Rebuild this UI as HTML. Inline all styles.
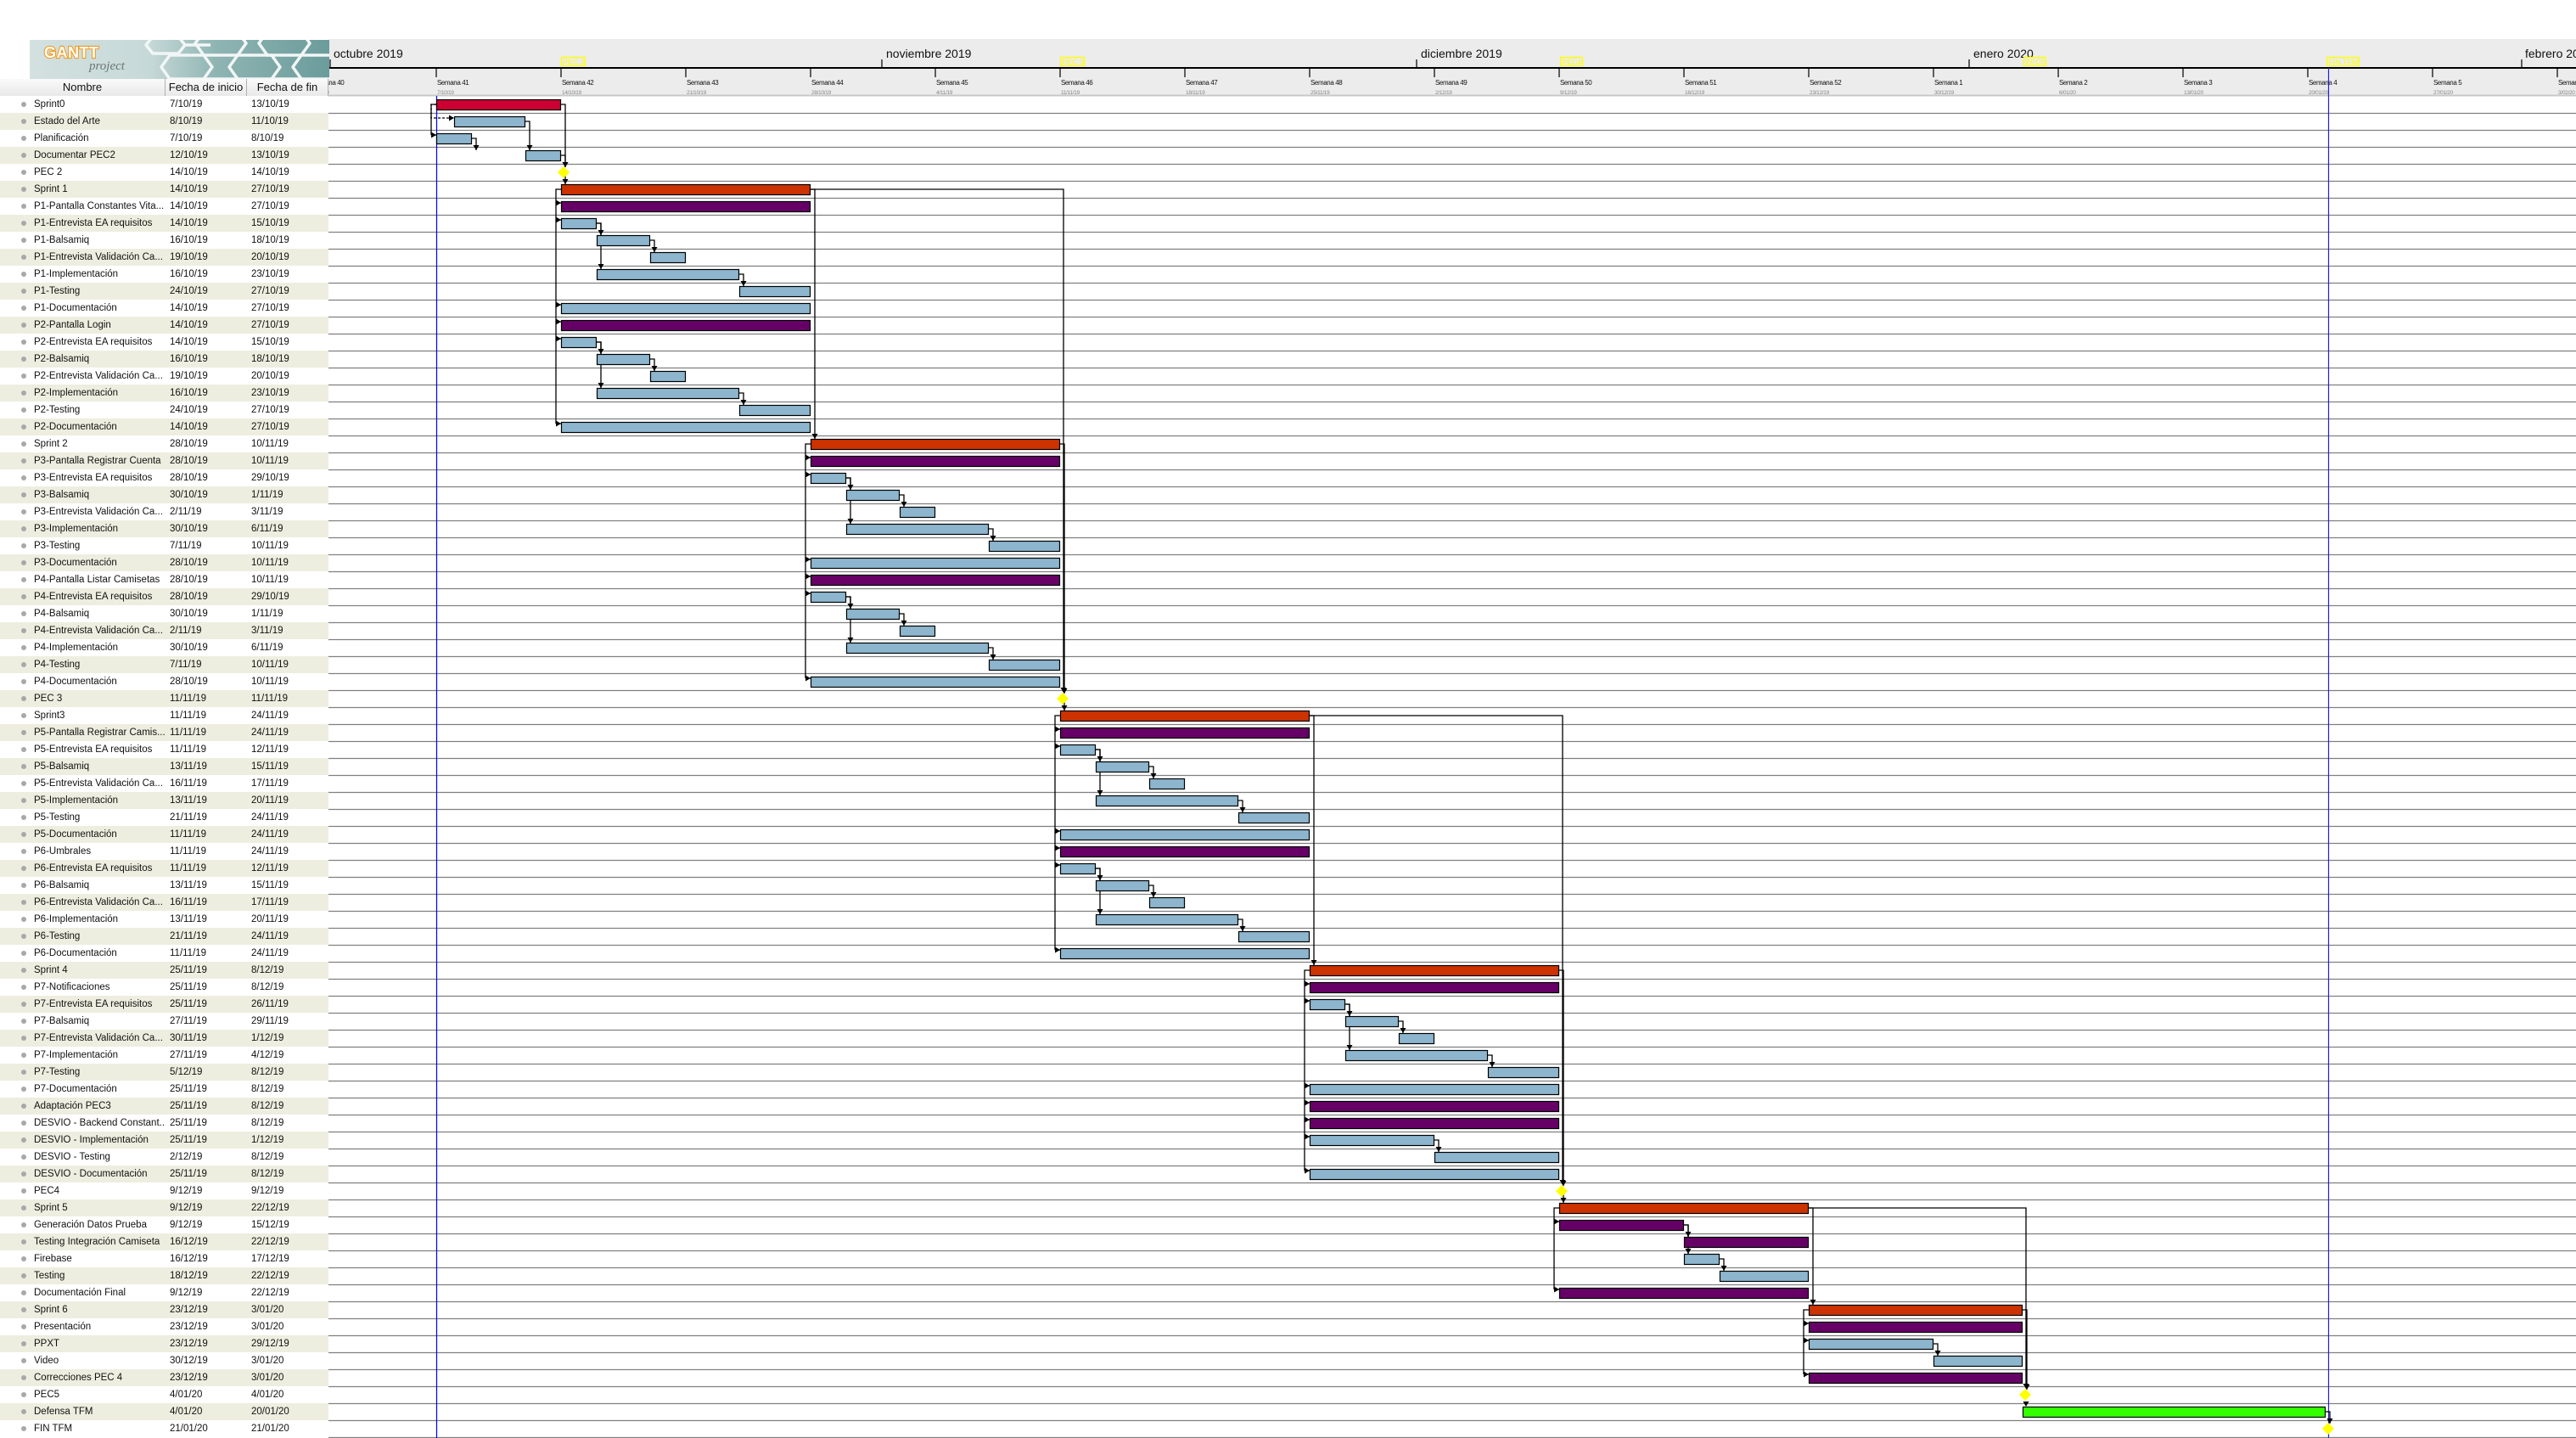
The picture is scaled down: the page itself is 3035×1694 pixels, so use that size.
<!DOCTYPE html>
<html><head><meta charset="utf-8">
<style>
html,body{margin:0;padding:0;background:#fff;}
body{width:3035px;height:1694px;position:relative;overflow:hidden;font-family:"Liberation Sans",sans-serif;}
#chart{position:absolute;left:0;top:0;}
#tbl{position:absolute;left:0;top:0;width:387px;height:1694px;background:#fff;}
.logo{position:absolute;left:35px;top:47px;width:353px;height:46px;background:linear-gradient(90deg,#d3e1e0 0%,#c6d9d8 40%,#8fb5b3 62%,#6b9c9b 100%);overflow:hidden;}
.hdr{position:absolute;top:93px;height:20px;line-height:20px;font-size:13px;text-align:center;background:linear-gradient(#fafafa,#e9e9e9);border-right:1px solid #b0b0b0;box-sizing:border-box;color:#111;}
.rows{position:absolute;left:0;top:113px;width:387px;}
.r{height:20px;line-height:20px;font-size:11.5px;color:#111;position:relative;white-space:nowrap;}
.r:nth-child(even){background:#eeeee0;}
.r i{position:absolute;left:25px;top:7px;width:6px;height:6px;border-radius:50%;background:#a8a8a8;}
.r b{font-weight:normal;position:absolute;left:40px;width:154px;overflow:hidden;}
.r s{text-decoration:none;position:absolute;left:200px;}
.r u{text-decoration:none;position:absolute;left:296px;}
</style></head><body>
<svg id="chart" width="3035" height="1694" xmlns="http://www.w3.org/2000/svg" font-family="Liberation Sans, sans-serif">
<rect x="387" y="46" width="2648" height="67" fill="#ececec"/>
<line x1="387" y1="112.5" x2="3035" y2="112.5" stroke="#c8c8c8" stroke-width="2"/>
<line x1="387" y1="80" x2="3035" y2="80" stroke="#000" stroke-width="2"/>
<g stroke="#000" stroke-width="1.2">
<line x1="389" y1="70" x2="389" y2="80"/><line x1="1039" y1="70" x2="1039" y2="80"/><line x1="1669" y1="70" x2="1669" y2="80"/><line x1="2320" y1="70" x2="2320" y2="80"/><line x1="2971" y1="70" x2="2971" y2="80"/>
</g>
<g font-size="14" fill="#111">
<text x="393" y="68">octubre 2019</text><text x="1044" y="68">noviembre 2019</text><text x="1674" y="68">diciembre 2019</text><text x="2325" y="68">enero 2020</text><text x="2975" y="68">febrero 2020</text>
</g>
<g stroke="#000" stroke-width="1.2">
<line x1="367" y1="80" x2="367" y2="91"/><line x1="514" y1="80" x2="514" y2="91"/><line x1="661" y1="80" x2="661" y2="91"/><line x1="808" y1="80" x2="808" y2="91"/><line x1="955" y1="80" x2="955" y2="91"/><line x1="1102" y1="80" x2="1102" y2="91"/><line x1="1249" y1="80" x2="1249" y2="91"/><line x1="1396" y1="80" x2="1396" y2="91"/><line x1="1543" y1="80" x2="1543" y2="91"/><line x1="1690" y1="80" x2="1690" y2="91"/><line x1="1837" y1="80" x2="1837" y2="91"/><line x1="1984" y1="80" x2="1984" y2="91"/><line x1="2131" y1="80" x2="2131" y2="91"/><line x1="2278" y1="80" x2="2278" y2="91"/><line x1="2425" y1="80" x2="2425" y2="91"/><line x1="2572" y1="80" x2="2572" y2="91"/><line x1="2719" y1="80" x2="2719" y2="91"/><line x1="2866" y1="80" x2="2866" y2="91"/><line x1="3013" y1="80" x2="3013" y2="91"/>
</g>
<g font-size="8" fill="#111" letter-spacing="-0.4">
<text x="368" y="100">Semana 40</text><text x="515" y="100">Semana 41</text><text x="662" y="100">Semana 42</text><text x="809" y="100">Semana 43</text><text x="956" y="100">Semana 44</text><text x="1103" y="100">Semana 45</text><text x="1250" y="100">Semana 46</text><text x="1397" y="100">Semana 47</text><text x="1544" y="100">Semana 48</text><text x="1691" y="100">Semana 49</text><text x="1838" y="100">Semana 50</text><text x="1985" y="100">Semana 51</text><text x="2132" y="100">Semana 52</text><text x="2279" y="100">Semana 1</text><text x="2426" y="100">Semana 2</text><text x="2573" y="100">Semana 3</text><text x="2720" y="100">Semana 4</text><text x="2867" y="100">Semana 5</text><text x="3014" y="100">Semana 6</text>
</g>
<g font-size="6.5" fill="#888" letter-spacing="-0.3">
<text x="368" y="111">30/9/19</text><text x="515" y="111">7/10/19</text><text x="662" y="111">14/10/19</text><text x="809" y="111">21/10/19</text><text x="956" y="111">28/10/19</text><text x="1103" y="111">4/11/19</text><text x="1250" y="111">11/11/19</text><text x="1397" y="111">18/11/19</text><text x="1544" y="111">25/11/19</text><text x="1691" y="111">2/12/19</text><text x="1838" y="111">9/12/19</text><text x="1985" y="111">16/12/19</text><text x="2132" y="111">23/12/19</text><text x="2279" y="111">30/12/19</text><text x="2426" y="111">6/01/20</text><text x="2573" y="111">13/01/20</text><text x="2720" y="111">20/01/20</text><text x="2867" y="111">27/01/20</text><text x="3014" y="111">3/02/20</text>
</g>
<g fill="none" stroke="#ffff00" stroke-width="1.2">
<rect x="661.5" y="67.5" width="28" height="10"/><rect x="1249.5" y="67.5" width="28" height="10"/><rect x="1838.5" y="67.5" width="26" height="10"/><rect x="2384.5" y="67.5" width="26" height="10"/><rect x="2741.5" y="67.5" width="38" height="10"/>
</g>
<g font-size="9" fill="#ffff00">
<text x="663" y="76">PEC 2</text><text x="1251" y="76">PEC 3</text><text x="1840" y="76">PEC4</text><text x="2386" y="76">PEC5</text><text x="2743" y="76">FIN TFM</text>
</g>
<g id="body"></g>
</svg>
<div id="tbl">
<div class="logo"><svg width="353" height="46" xmlns="http://www.w3.org/2000/svg">
<g fill="none" stroke="#f2f6f6" stroke-width="3.5" stroke-linejoin="round">
<path d="M145,-4 L175,-4 L183,6 L175,16 L145,16 L137,6 Z M183,6 L213,6"/>
<path d="M205,-10 L245,-10 L255,4 L245,18 L205,18 L195,4 Z"/>
<path d="M280,-10 L320,-10 L330,4 L320,18 L280,18 L270,4 Z"/>
<path d="M165,18 L205,18 L215,32 L205,46 L165,46 L155,32 Z"/>
<path d="M245,18 L285,18 L295,32 L285,46 L245,46 L235,32 Z"/>
<path d="M320,18 L360,18 L370,32 L360,46 L320,46 L310,32 Z"/>
<path d="M205,46 L245,46 M285,46 L320,46"/>
</g>
<text x="17" y="21" font-size="18" font-weight="bold" fill="#fff" font-family="Liberation Sans, sans-serif" stroke="#f39a1d" stroke-width="2.2" paint-order="stroke" letter-spacing="0.5">GANTT</text>
<text x="70" y="35" font-size="15" font-style="italic" fill="#6d7775" font-family="Liberation Serif, serif">project</text></svg></div>
<div class="hdr" style="left:0;width:195px;">Nombre</div>
<div class="hdr" style="left:195px;width:96px;">Fecha de inicio</div>
<div class="hdr" style="left:291px;width:96px;">Fecha de fin</div>
<div class="rows">
<div class="r"><i></i><b>Sprint0</b><s>7/10/19</s><u>13/10/19</u></div>
<div class="r"><i></i><b>Estado del Arte</b><s>8/10/19</s><u>11/10/19</u></div>
<div class="r"><i></i><b>Planificación</b><s>7/10/19</s><u>8/10/19</u></div>
<div class="r"><i></i><b>Documentar PEC2</b><s>12/10/19</s><u>13/10/19</u></div>
<div class="r"><i></i><b>PEC 2</b><s>14/10/19</s><u>14/10/19</u></div>
<div class="r"><i></i><b>Sprint 1</b><s>14/10/19</s><u>27/10/19</u></div>
<div class="r"><i></i><b>P1-Pantalla Constantes Vita...</b><s>14/10/19</s><u>27/10/19</u></div>
<div class="r"><i></i><b>P1-Entrevista EA requisitos</b><s>14/10/19</s><u>15/10/19</u></div>
<div class="r"><i></i><b>P1-Balsamiq</b><s>16/10/19</s><u>18/10/19</u></div>
<div class="r"><i></i><b>P1-Entrevista Validación Ca...</b><s>19/10/19</s><u>20/10/19</u></div>
<div class="r"><i></i><b>P1-Implementación</b><s>16/10/19</s><u>23/10/19</u></div>
<div class="r"><i></i><b>P1-Testing</b><s>24/10/19</s><u>27/10/19</u></div>
<div class="r"><i></i><b>P1-Documentación</b><s>14/10/19</s><u>27/10/19</u></div>
<div class="r"><i></i><b>P2-Pantalla Login</b><s>14/10/19</s><u>27/10/19</u></div>
<div class="r"><i></i><b>P2-Entrevista EA requisitos</b><s>14/10/19</s><u>15/10/19</u></div>
<div class="r"><i></i><b>P2-Balsamiq</b><s>16/10/19</s><u>18/10/19</u></div>
<div class="r"><i></i><b>P2-Entrevista Validación Ca...</b><s>19/10/19</s><u>20/10/19</u></div>
<div class="r"><i></i><b>P2-Implementación</b><s>16/10/19</s><u>23/10/19</u></div>
<div class="r"><i></i><b>P2-Testing</b><s>24/10/19</s><u>27/10/19</u></div>
<div class="r"><i></i><b>P2-Documentación</b><s>14/10/19</s><u>27/10/19</u></div>
<div class="r"><i></i><b>Sprint 2</b><s>28/10/19</s><u>10/11/19</u></div>
<div class="r"><i></i><b>P3-Pantalla Registrar Cuenta</b><s>28/10/19</s><u>10/11/19</u></div>
<div class="r"><i></i><b>P3-Entrevista EA requisitos</b><s>28/10/19</s><u>29/10/19</u></div>
<div class="r"><i></i><b>P3-Balsamiq</b><s>30/10/19</s><u>1/11/19</u></div>
<div class="r"><i></i><b>P3-Entrevista Validación Ca...</b><s>2/11/19</s><u>3/11/19</u></div>
<div class="r"><i></i><b>P3-Implementación</b><s>30/10/19</s><u>6/11/19</u></div>
<div class="r"><i></i><b>P3-Testing</b><s>7/11/19</s><u>10/11/19</u></div>
<div class="r"><i></i><b>P3-Documentación</b><s>28/10/19</s><u>10/11/19</u></div>
<div class="r"><i></i><b>P4-Pantalla Listar Camisetas</b><s>28/10/19</s><u>10/11/19</u></div>
<div class="r"><i></i><b>P4-Entrevista EA requisitos</b><s>28/10/19</s><u>29/10/19</u></div>
<div class="r"><i></i><b>P4-Balsamiq</b><s>30/10/19</s><u>1/11/19</u></div>
<div class="r"><i></i><b>P4-Entrevista Validación Ca...</b><s>2/11/19</s><u>3/11/19</u></div>
<div class="r"><i></i><b>P4-Implementación</b><s>30/10/19</s><u>6/11/19</u></div>
<div class="r"><i></i><b>P4-Testing</b><s>7/11/19</s><u>10/11/19</u></div>
<div class="r"><i></i><b>P4-Documentación</b><s>28/10/19</s><u>10/11/19</u></div>
<div class="r"><i></i><b>PEC 3</b><s>11/11/19</s><u>11/11/19</u></div>
<div class="r"><i></i><b>Sprint3</b><s>11/11/19</s><u>24/11/19</u></div>
<div class="r"><i></i><b>P5-Pantalla Registrar Camis...</b><s>11/11/19</s><u>24/11/19</u></div>
<div class="r"><i></i><b>P5-Entrevista EA requisitos</b><s>11/11/19</s><u>12/11/19</u></div>
<div class="r"><i></i><b>P5-Balsamiq</b><s>13/11/19</s><u>15/11/19</u></div>
<div class="r"><i></i><b>P5-Entrevista Validación Ca...</b><s>16/11/19</s><u>17/11/19</u></div>
<div class="r"><i></i><b>P5-Implementación</b><s>13/11/19</s><u>20/11/19</u></div>
<div class="r"><i></i><b>P5-Testing</b><s>21/11/19</s><u>24/11/19</u></div>
<div class="r"><i></i><b>P5-Documentación</b><s>11/11/19</s><u>24/11/19</u></div>
<div class="r"><i></i><b>P6-Umbrales</b><s>11/11/19</s><u>24/11/19</u></div>
<div class="r"><i></i><b>P6-Entrevista EA requisitos</b><s>11/11/19</s><u>12/11/19</u></div>
<div class="r"><i></i><b>P6-Balsamiq</b><s>13/11/19</s><u>15/11/19</u></div>
<div class="r"><i></i><b>P6-Entrevista Validación Ca...</b><s>16/11/19</s><u>17/11/19</u></div>
<div class="r"><i></i><b>P6-Implementación</b><s>13/11/19</s><u>20/11/19</u></div>
<div class="r"><i></i><b>P6-Testing</b><s>21/11/19</s><u>24/11/19</u></div>
<div class="r"><i></i><b>P6-Documentación</b><s>11/11/19</s><u>24/11/19</u></div>
<div class="r"><i></i><b>Sprint 4</b><s>25/11/19</s><u>8/12/19</u></div>
<div class="r"><i></i><b>P7-Notificaciones</b><s>25/11/19</s><u>8/12/19</u></div>
<div class="r"><i></i><b>P7-Entrevista EA requisitos</b><s>25/11/19</s><u>26/11/19</u></div>
<div class="r"><i></i><b>P7-Balsamiq</b><s>27/11/19</s><u>29/11/19</u></div>
<div class="r"><i></i><b>P7-Entrevista Validación Ca...</b><s>30/11/19</s><u>1/12/19</u></div>
<div class="r"><i></i><b>P7-Implementación</b><s>27/11/19</s><u>4/12/19</u></div>
<div class="r"><i></i><b>P7-Testing</b><s>5/12/19</s><u>8/12/19</u></div>
<div class="r"><i></i><b>P7-Documentación</b><s>25/11/19</s><u>8/12/19</u></div>
<div class="r"><i></i><b>Adaptación PEC3</b><s>25/11/19</s><u>8/12/19</u></div>
<div class="r"><i></i><b>DESVIO - Backend Constant...</b><s>25/11/19</s><u>8/12/19</u></div>
<div class="r"><i></i><b>DESVIO - Implementación</b><s>25/11/19</s><u>1/12/19</u></div>
<div class="r"><i></i><b>DESVIO - Testing</b><s>2/12/19</s><u>8/12/19</u></div>
<div class="r"><i></i><b>DESVIO - Documentación</b><s>25/11/19</s><u>8/12/19</u></div>
<div class="r"><i></i><b>PEC4</b><s>9/12/19</s><u>9/12/19</u></div>
<div class="r"><i></i><b>Sprint 5</b><s>9/12/19</s><u>22/12/19</u></div>
<div class="r"><i></i><b>Generación Datos Prueba</b><s>9/12/19</s><u>15/12/19</u></div>
<div class="r"><i></i><b>Testing Integración Camiseta</b><s>16/12/19</s><u>22/12/19</u></div>
<div class="r"><i></i><b>Firebase</b><s>16/12/19</s><u>17/12/19</u></div>
<div class="r"><i></i><b>Testing</b><s>18/12/19</s><u>22/12/19</u></div>
<div class="r"><i></i><b>Documentación Final</b><s>9/12/19</s><u>22/12/19</u></div>
<div class="r"><i></i><b>Sprint 6</b><s>23/12/19</s><u>3/01/20</u></div>
<div class="r"><i></i><b>Presentación</b><s>23/12/19</s><u>3/01/20</u></div>
<div class="r"><i></i><b>PPXT</b><s>23/12/19</s><u>29/12/19</u></div>
<div class="r"><i></i><b>Video</b><s>30/12/19</s><u>3/01/20</u></div>
<div class="r"><i></i><b>Correcciones PEC 4</b><s>23/12/19</s><u>3/01/20</u></div>
<div class="r"><i></i><b>PEC5</b><s>4/01/20</s><u>4/01/20</u></div>
<div class="r"><i></i><b>Defensa TFM</b><s>4/01/20</s><u>20/01/20</u></div>
<div class="r"><i></i><b>FIN TFM</b><s>21/01/20</s><u>21/01/20</u></div>
</div>
</div>
<script>
(function(){
function X(s){var p=s.split('/').map(Number),d=p[0],m=p[1];var i={10:d-7,11:24+d,12:54+d,1:85+d,2:116+d}[m];return 514+21*i;}
var C={s0:'#cc0033',sp:'#cc3300',pu:'#660066',bl:'#8db6ce',gr:'#33ff00'};
var T=[];
function P(a,b,t){T.push([a,b,t]);}
P('7/10','13/10','s0');P('8/10','11/10','bl');P('7/10','8/10','bl');P('12/10','13/10','bl');P('14/10',null,'ms');
P('14/10','27/10','sp');
function G2(a){
P(a[0],a[8],'pu');P(a[0],a[1],'bl');P(a[2],a[3],'bl');P(a[4],a[5],'bl');P(a[2],a[6],'bl');P(a[7],a[8],'bl');P(a[0],a[8],'bl');}
var g1=['14/10','15/10','16/10','18/10','19/10','20/10','23/10','24/10','27/10'];
G2(g1);G2(g1);
P('28/10','10/11','sp');
var g2=['28/10','29/10','30/10','1/11','2/11','3/11','6/11','7/11','10/11'];
G2(g2);G2(g2);
P('11/11',null,'ms');P('11/11','24/11','sp');
var g3=['11/11','12/11','13/11','15/11','16/11','17/11','20/11','21/11','24/11'];
G2(g3);G2(g3);
P('25/11','8/12','sp');
G2(['25/11','26/11','27/11','29/11','30/11','1/12','4/12','5/12','8/12']);
P('25/11','8/12','pu');P('25/11','8/12','pu');P('25/11','1/12','bl');P('2/12','8/12','bl');P('25/11','8/12','bl');
P('9/12',null,'ms');P('9/12','22/12','sp');P('9/12','15/12','pu');P('16/12','22/12','pu');P('16/12','17/12','bl');P('18/12','22/12','bl');P('9/12','22/12','pu');
P('23/12','3/1','sp');P('23/12','3/1','pu');P('23/12','29/12','bl');P('30/12','3/1','bl');P('23/12','3/1','pu');
P('4/1',null,'ms');P('4/1','20/1','gr');P('21/1',null,'ms');
var h='';
for(var r=1;r<=79;r++){var y=113+r*20;h+='<line x1="387" y1="'+(y+0.5)+'" x2="3035" y2="'+(y+0.5)+'" stroke="#808080" stroke-width="1.3"/>';}
h+='<line x1="514.5" y1="113" x2="514.5" y2="1694" stroke="#0000ee" stroke-width="1.2"/>';
h+='<line x1="2743.5" y1="80" x2="2743.5" y2="1694" stroke="#2222dd" stroke-width="1.2"/>';
var L='';
function top(r){return 113+r*20+4;}
function mid(r){return 113+r*20+10;}
function x1(r){return X(T[r][0]);}
function x2(r){return T[r][1]?X(T[r][1])+21:X(T[r][0]);}
function ad(x,y){return '<path d="M'+(x-3.5)+' '+(y-6)+' H'+(x+3.5)+' L'+x+' '+y+' Z" fill="#000"/>';}
function ar(x,y){return '<path d="M'+(x-6)+' '+(y-3.5)+' V'+(y+3.5)+' L'+x+' '+y+' Z" fill="#000"/>';}
function fs(a,b){var xa=x2(a)+5;L+='<path d="M'+x2(a)+' '+mid(a)+' H'+xa+' V'+top(b)+'" fill="none" stroke="#000" stroke-width="1.3"/>'+ad(xa,top(b));}
function ss(p,kids){var x=x1(p)-6,last=kids[kids.length-1];L+='<path d="M'+x1(p)+' '+mid(p)+' H'+x+' V'+(top(last)+2)+'" fill="none" stroke="#000" stroke-width="1.3"/>';kids.forEach(function(k){L+='<line x1="'+x+'" y1="'+(top(k)+2)+'" x2="'+x1(k)+'" y2="'+(top(k)+2)+'" stroke="#000" stroke-width="1.3"/>'+ar(x1(k),top(k)+2);});}
function box(s,ms){var xb=x1(ms)+4;L+='<path d="M'+x2(s)+' '+mid(s)+' H'+xb+' V'+(top(ms)-2)+'" fill="none" stroke="#000" stroke-width="1.3"/>'+ad(xb,top(ms)-1);}
L+='<path d="M514 '+mid(0)+' H508 V'+(top(1)+2)+' H'+x1(1)+'" fill="none" stroke="#000" stroke-width="1.3" stroke-dasharray="3,2"/>'+ar(x1(1),top(1)+2);
ss(0,[2]);fs(1,3);fs(2,3);fs(3,4);fs(0,4);fs(4,5);
[[5,[6,7,12,13,14,19]],[20,[21,22,27,28,29,34]],[36,[37,38,43,44,45,50]],[51,[52,53,58,59,60,61,63]],[65,[66,70]],[71,[72,73,75]]].forEach(function(g){ss(g[0],g[1]);});
[7,14,22,29,38,45,53].forEach(function(g){fs(g,g+1);fs(g+1,g+2);fs(g,g+3);fs(g+3,g+4);});
fs(61,62);fs(66,67);fs(66,68);fs(68,69);fs(73,74);
fs(5,20);fs(20,35);fs(35,36);fs(36,51);fs(51,64);fs(64,65);fs(65,71);fs(71,76);fs(77,78);
box(5,35);box(36,64);box(65,76);
L+=ad(x1(77)+4,top(77));
var B='';
T.forEach(function(t,r){
 if(t[2]=='ms'){var cx=X(t[0])+3,cy=mid(r);B+='<path d="M'+cx+' '+(cy-7)+' L'+(cx+7)+' '+cy+' L'+cx+' '+(cy+7)+' L'+(cx-7)+' '+cy+' Z" fill="#ffff00"/>';}
 else{var a=X(t[0]),b=X(t[1])+21;B+='<rect x="'+(a+0.5)+'" y="'+(top(r)+0.5)+'" width="'+(b-a-1)+'" height="12" fill="'+C[t[2]]+'" stroke="#000" stroke-width="1.2"/>';}
});
document.getElementById('body').innerHTML=h+L+B;
})();
</script>
</body></html>
